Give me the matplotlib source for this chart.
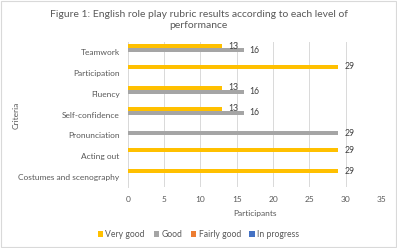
import numpy as np
import matplotlib.pyplot as plt

plt.rcParams['font.family'] = ['Lato', 'DejaVu Sans']

criteria = ['Costumes and scenography', 'Acting out', 'Pronunciation',
            'Self-confidence', 'Fluency', 'Participation', 'Teamwork']
series_names = ['Very good', 'Good', 'Fairly good', 'In progress']
very_good = [29, 29, 0, 13, 13, 29, 13]
good = [0, 0, 29, 16, 16, 0, 16]
fairly_good = [0, 0, 0, 0, 0, 0, 0]
in_progress = [0, 0, 0, 0, 0, 0, 0]
colors = ['#FFC000', '#A5A5A5', '#ED7D31', '#4472C4']

txt = '#595959'
fig = plt.figure(figsize=(3.97, 2.48), dpi=100)
ax = fig.add_axes([0.322, 0.244, 0.640, 0.588])

y = np.arange(len(criteria))
h = 0.19
offsets = [1.5 * h, 0.5 * h, -0.5 * h, -1.5 * h]
for vals, name, c, off in zip([very_good, good, fairly_good, in_progress],
                              series_names, colors, offsets):
    bars = ax.barh(y + off, vals, height=h, color=c, label=name, zorder=3)
    for b, v in zip(bars, vals):
        if v:
            ax.text(v + 0.8, b.get_y() + h / 2, str(v), va='center', ha='left',
                    fontsize=6.2, color='#404040', zorder=4)

ax.set_xlim(0, 35)
ax.set_ylim(-0.5, 6.5)
ax.set_xticks(range(0, 36, 5))
ax.set_yticks(y)
ax.set_yticklabels(criteria)
ax.tick_params(length=0, labelsize=6.0, colors=txt, pad=6)
ax.grid(axis='x', color='#D9D9D9', linewidth=0.7, zorder=0)
for s in ['top', 'right', 'bottom']:
    ax.spines[s].set_visible(False)
ax.spines['left'].set_color('#D9D9D9')
ax.spines['left'].set_linewidth(0.7)

ax.set_xlabel('Participants', fontsize=6.0, color=txt, labelpad=5)
fig.text(0.04, 0.535, 'Criteria', rotation=90, fontsize=6.0, color=txt,
         ha='center', va='center')
fig.text(0.5, 0.92, 'Figure 1: English role play rubric results according to each level of\nperformance',
         ha='center', va='center', fontsize=7.5, color=txt, linespacing=1.3)

fig.legend(loc='center', bbox_to_anchor=(0.5, 0.055), ncol=4, frameon=False,
           fontsize=6.2, labelcolor=txt, handlelength=0.6, handleheight=0.6,
           handletextpad=0.3, columnspacing=1.0)

fig.patches.append(plt.Rectangle((0.003, 0.004), 0.994, 0.992, transform=fig.transFigure,
                                 fill=False, edgecolor='#D9D9D9', linewidth=0.8))
plt.savefig('out.png', dpi=100)
